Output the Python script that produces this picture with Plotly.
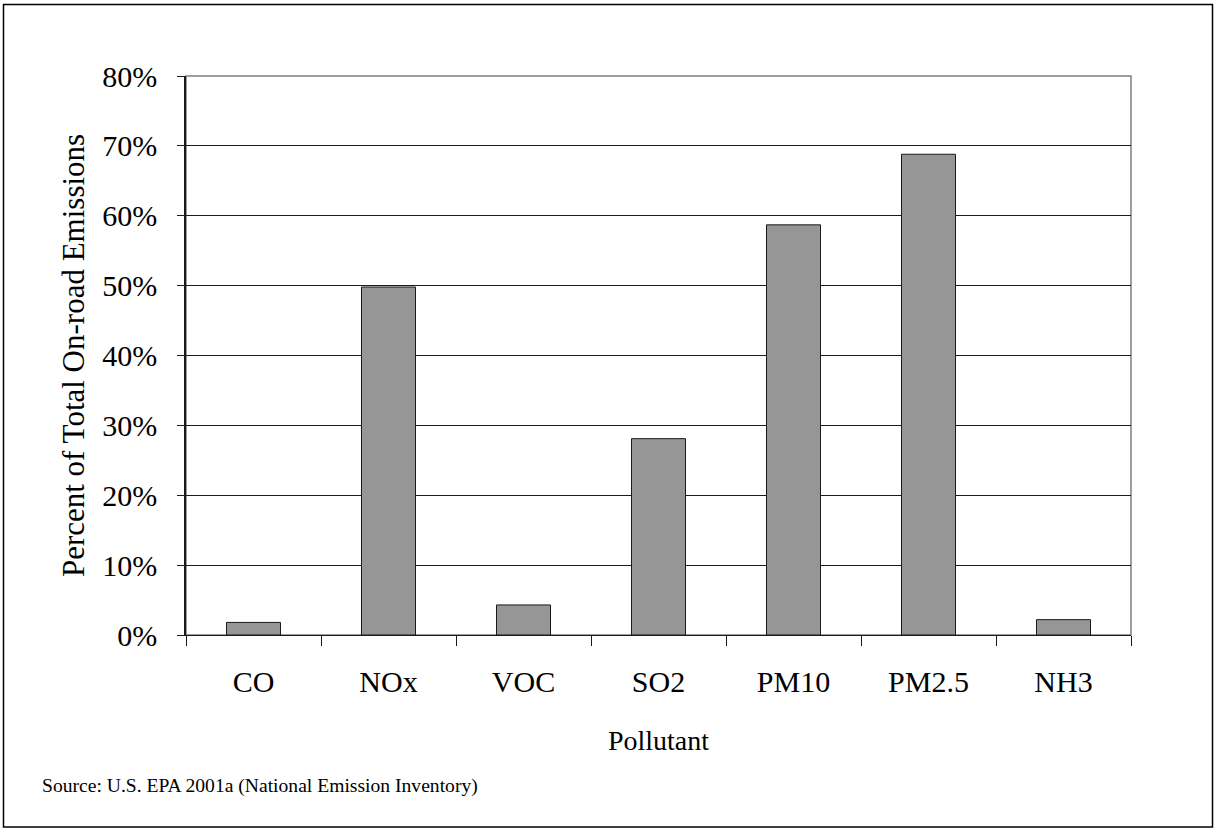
import plotly.graph_objects as go

# Share of total on-road emissions by pollutant (percent)
pollutants = ["CO", "NOx", "VOC", "SO2", "PM10", "PM2.5", "NH3"]
share_pct = [1.8, 49.8, 4.3, 28.1, 58.7, 68.8, 2.2]
y_ticks = [0, 10, 20, 30, 40, 50, 60, 70, 80]
y_tick_labels = [f"{v}%" for v in y_ticks]

W, H = 1215, 830
L, R, T, B = 186, 84, 76, 195
plot_w = W - L - R
plot_h = H - T - B


def px_to_paper_x(px):
    return (px - L) / plot_w


def px_to_paper_y(py):
    return (H - B - py) / plot_h


font_family = "Liberation Serif, Times New Roman, serif"

fig = go.Figure(
    go.Bar(
        x=pollutants,
        y=share_pct,
        width=0.4,
        marker=dict(color="#969696", line=dict(color="#1a1a1a", width=1)),
        hoverinfo="x+y",
    )
)

fig.update_layout(
    width=W,
    height=H,
    margin=dict(l=L, r=R, t=T, b=B, pad=0),
    paper_bgcolor="white",
    plot_bgcolor="white",
    showlegend=False,
    font=dict(family=font_family, color="black", size=30),
    bargap=0.6,
)

fig.update_xaxes(
    type="category",
    range=[-0.5, len(pollutants) - 0.5],
    showgrid=False,
    showline=True,
    linecolor="#1a1a1a",
    linewidth=1,
    ticks="outside",
    tickson="boundaries",
    ticklen=10,
    tickcolor="#1a1a1a",
    tickwidth=1,
    tickfont=dict(size=30, family=font_family),
    ticklabelstandoff=20,
    title=dict(text="Pollutant", font=dict(size=28, family=font_family), standoff=33),
    zeroline=False,
)

fig.update_yaxes(
    range=[0, 80],
    tickvals=y_ticks,
    ticktext=y_tick_labels,
    showgrid=True,
    gridcolor="#1a1a1a",
    gridwidth=1,
    showline=True,
    linecolor="#1a1a1a",
    linewidth=1.5,
    ticks="outside",
    ticklen=7,
    tickcolor="#1a1a1a",
    tickwidth=1,
    tickfont=dict(size=30, family=font_family),
    ticklabelstandoff=14,
    title=dict(
        text="Percent of Total On-road Emissions",
        font=dict(size=31, family=font_family),
        standoff=8,
    ),
    zeroline=False,
)

# Plot-area border and outer chart frame
fig.add_shape(
    type="rect", xref="paper", yref="paper",
    x0=0, x1=1, y0=0, y1=1,
    line=dict(color="#7f7f7f", width=1.5),
    layer="below",
)
fig.add_shape(
    type="rect", xref="paper", yref="paper",
    x0=px_to_paper_x(3.5), x1=px_to_paper_x(1212.5),
    y0=px_to_paper_y(827), y1=px_to_paper_y(4.5),
    line=dict(color="black", width=1.5),
)

fig.add_annotation(
    text="Source: U.S. EPA 2001a (National Emission Inventory)",
    xref="paper", yref="paper",
    x=px_to_paper_x(40), y=px_to_paper_y(786),
    xanchor="left", yanchor="middle",
    showarrow=False,
    font=dict(size=19.6, family=font_family, color="black"),
)

fig.write_html("out.html")
